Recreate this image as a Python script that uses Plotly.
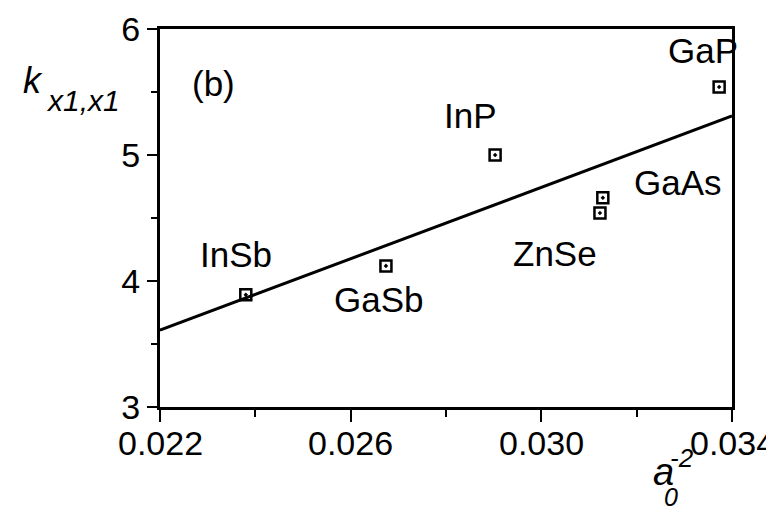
import plotly.graph_objects as go

materials = ["InSb", "GaSb", "InP", "ZnSe", "GaAs", "GaP"]
x_vals = [0.02380, 0.02674, 0.02903, 0.03123, 0.03129, 0.03373]
k_vals = [3.89, 4.12, 5.00, 4.54, 4.66, 5.54]

fit_x = [0.022, 0.034]
fit_y = [3.61, 5.31]

label_x = [0.02360, 0.02660, 0.02852, 0.03028, 0.03287, 0.03340]
label_y = [4.21, 3.85, 5.31, 4.22, 4.78, 5.83]

x_ticks = [0.022, 0.026, 0.030, 0.034]
x_ticktext = ["0.022", "0.026", "0.030", "0.034"]
y_ticks = [3, 4, 5, 6]

font = "Liberation Sans, Arial, sans-serif"

fig = go.Figure()
fig.add_trace(go.Scatter(x=fit_x, y=fit_y, mode="lines",
                         line=dict(color="black", width=3), showlegend=False))
fig.add_trace(go.Scatter(x=x_vals, y=k_vals, mode="markers",
                         marker=dict(symbol="square-open-dot", size=11, color="black",
                                     line=dict(width=2.5, color="black")),
                         showlegend=False))

for name, lx, ly in zip(materials, label_x, label_y):
    fig.add_annotation(x=lx, y=ly, text=name, showarrow=False,
                       font=dict(size=35, color="black", family=font))

fig.add_annotation(x=0.02313, y=5.57, text="(b)", showarrow=False,
                   font=dict(size=35, color="black", family=font))

# x tick labels (placed a little closer to the axis than Plotly's default)
for tv, tt in zip(x_ticks, x_ticktext):
    fig.add_annotation(x=tv, xref="x", y=0, yref="paper", text=tt, showarrow=False,
                       xanchor="center", yanchor="middle", yshift=-36,
                       font=dict(size=34, color="black", family=font))

# y-axis label: k_{x1,x1}
fig.add_annotation(xref="paper", yref="paper", x=-0.243, y=0.865,
                   xanchor="left", yanchor="middle",
                   text="<i>k</i>", showarrow=False,
                   font=dict(size=36, color="black", family=font))
fig.add_annotation(xref="paper", yref="paper", x=-0.203, y=0.81,
                   xanchor="left", yanchor="middle",
                   text="<i>x1,x1</i>", showarrow=False,
                   font=dict(size=30, color="black", family=font))
# x-axis label: a_0^{-2}
fig.add_annotation(xref="paper", yref="paper", x=0.881, y=-0.172,
                   xanchor="center", yanchor="middle",
                   text="<i>a</i>", showarrow=False,
                   font=dict(size=38, color="black", family=font))
fig.add_annotation(xref="paper", yref="paper", x=0.912, y=-0.135,
                   xanchor="center", yanchor="middle",
                   text="<i>-2</i>", showarrow=False,
                   font=dict(size=26, color="black", family=font))
fig.add_annotation(xref="paper", yref="paper", x=0.893, y=-0.238,
                   xanchor="center", yanchor="middle",
                   text="<i>0</i>", showarrow=False,
                   font=dict(size=25, color="black", family=font))

fig.update_xaxes(range=[0.022, 0.034], tickvals=x_ticks, showticklabels=False,
                 showline=True, linecolor="black", linewidth=3, mirror=True,
                 ticks="outside", ticklen=12, tickwidth=2, tickcolor="black",
                 minor=dict(ticks="outside", ticklen=7, tickwidth=2, tickcolor="black", dtick=0.002),
                 showgrid=False, zeroline=False, automargin=False)
fig.update_yaxes(range=[3, 6], tickvals=y_ticks,
                 showline=True, linecolor="black", linewidth=3, mirror=True,
                 ticks="outside", ticklen=10, tickwidth=2, tickcolor="black",
                 minor=dict(ticks="outside", ticklen=6, tickwidth=2, tickcolor="black", dtick=0.5),
                 showgrid=False, zeroline=False, automargin=False,
                 tickfont=dict(size=34, color="black", family=font))

fig.update_layout(width=774, height=513, plot_bgcolor="white", paper_bgcolor="white",
                  margin=dict(l=152, r=50, t=21, b=114))

fig.write_html("out.html")
